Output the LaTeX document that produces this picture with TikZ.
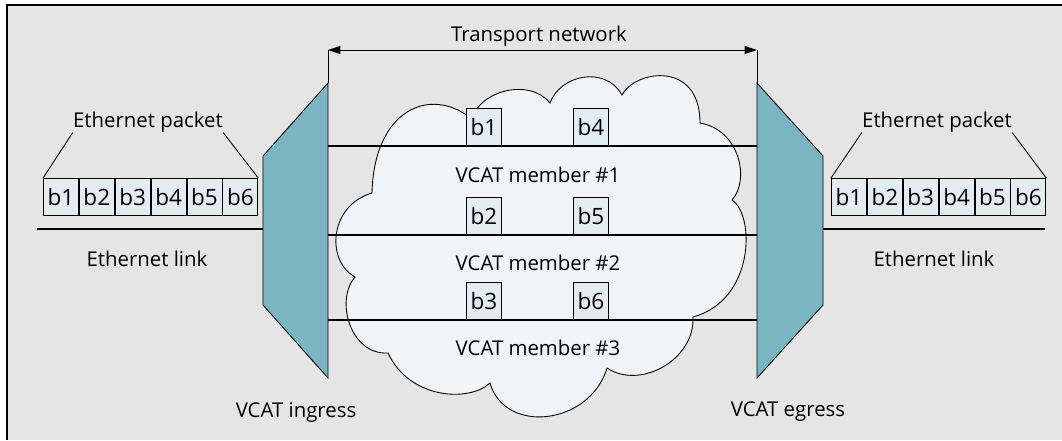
\documentclass[tikz,border=0pt]{standalone}
\usepackage{fontspec}
\setmainfont{Open Sans}
\usetikzlibrary{arrows.meta}
\definecolor{bggray}{HTML}{E5E5E5}
\definecolor{teal}{HTML}{7CB5C2}
\definecolor{boxfill}{HTML}{E3ECEF}
\definecolor{cloudfill}{HTML}{F0F4F7}
\tikzset{
  lbl/.style={font=\fontsize{11.6}{13}\selectfont, inner sep=0pt},
  bytebox/.style={draw, fill=boxfill, line width=0.5pt, minimum width=35*0.02cm, minimum height=37*0.02cm, inner sep=0pt, font=\fontsize{12.8}{14}\selectfont, anchor=north west},
  mux/.style={draw, fill=teal, line width=0.5pt},
  thickline/.style={line width=1.5pt},
  thin/.style={line width=0.5pt},
}
\begin{document}
\begin{tikzpicture}[x=0.02cm,y=-0.02cm]
\useasboundingbox (0,0) rectangle (1062,440);
\fill[white] (0,0) rectangle (1062,440);
\fill[bggray] (7,5) rectangle (1062,440);
\draw[line width=0.8pt] (7,440) -- (7,5) -- (1062,5);

% cloud
\draw[thin, fill=cloudfill]
 (372,193) .. controls (374,110) and (430,85) .. (472,119)
 .. controls (480,90) and (530,78) .. (550,103)
 .. controls (560,75) and (605,65) .. (622,95)
 .. controls (635,70) and (700,60) .. (700,123)
 .. controls (740,130) and (750,180) .. (732,200)
 .. controls (755,215) and (755,300) .. (693,317)
 .. controls (695,360) and (640,390) .. (607,368)
 .. controls (590,425) and (505,435) .. (490,383)
 .. controls (470,402) and (410,400) .. (388,353)
 .. controls (350,355) and (335,300) .. (355,277)
 .. controls (325,260) and (330,205) .. cycle;

% muxes
\coordinate (inTR) at (328,83);
\coordinate (inBR) at (328,378);
\coordinate (egTL) at (757,83);
\coordinate (egBL) at (757,378);
\draw[mux] (263,156) -- (inTR) -- (inBR) -- (263,305) -- cycle;
\draw[mux] (egTL) -- (823,156) -- (823,305) -- (egBL) -- cycle;

% transport network arrow
\coordinate (arL) at (328,50);
\coordinate (arR) at (757,50);
\draw[thin] (inTR) -- (arL);
\draw[thin] (egTL) -- (arR);
\draw[thin, {Triangle[length=7pt,width=4.5pt]}-{Triangle[length=7pt,width=4.5pt]}] (arL) -- (arR);
\node[lbl] (tn) at (539,36) {Transport network};

% member lines
\foreach \i/\y in {1/146,2/235,3/320} {
  \coordinate (mL\i) at (328,\y);
  \coordinate (mR\i) at (757,\y);
}
\draw[thickline] (mL1) -- (mR1);
\draw[thickline] (mL2) -- (mR2);
\draw[thickline] (mL3) -- (mR3);

% small boxes on members
\node[bytebox, anchor=south west] (m1a) at (466,146) {b1};
\node[bytebox, anchor=south west] (m1b) at (573,146) {b4};
\node[bytebox, anchor=south west] (m2a) at (466,235) {b2};
\node[bytebox, anchor=south west] (m2b) at (573,235) {b5};
\node[bytebox, anchor=south west] (m3a) at (466,320) {b3};
\node[bytebox, anchor=south west] (m3b) at (573,320) {b6};

\node[lbl] (vm1) at (538,175) {VCAT member \#1};
\node[lbl] (vm2) at (538,263) {VCAT member \#2};
\node[lbl] (vm3) at (538,348) {VCAT member \#3};

% left packet
\node[bytebox] (l1) at (43,178) {b1};
\node[bytebox, anchor=west] (l2) at (l1.east) {b2};
\node[bytebox, anchor=west] (l3) at (l2.east) {b3};
\node[bytebox, anchor=west] (l4) at (l3.east) {b4};
\node[bytebox, anchor=west] (l5) at (l4.east) {b5};
\node[bytebox, anchor=west] (l6) at (l5.east) {b6};
\node[lbl] (lpk) at (148,122) {Ethernet packet};
\draw[thin] (lpk.south west) -- (l1.north west);
\draw[thin] (lpk.south east) -- (l6.north east);

% right packet
\node[bytebox] (r1) at (831,178) {b1};
\node[bytebox, anchor=west] (r2) at (r1.east) {b2};
\node[bytebox, anchor=west] (r3) at (r2.east) {b3};
\node[bytebox, anchor=west] (r4) at (r3.east) {b4};
\node[bytebox, anchor=west] (r5) at (r4.east) {b5};
\node[bytebox, anchor=west] (r6) at (r5.east) {b6};
\node[lbl] (rpk) at (937,122) {Ethernet packet};
\draw[thin] (rpk.south west) -- (r1.north west);
\draw[thin] (rpk.south east) -- (r6.north east);

% ethernet links
\coordinate (elL) at (37,229);
\coordinate (inL) at (263,229);
\coordinate (egR) at (823,229);
\coordinate (elR) at (1045,229);
\draw[thickline] (elL) -- (inL);
\draw[thickline] (egR) -- (elR);
\node[lbl] (ell) at (147,259) {Ethernet link};
\node[lbl] (elr) at (934,259) {Ethernet link};

\node[lbl] (ing) at (296,412) {VCAT ingress};
\node[lbl] (egr) at (788,412) {VCAT egress};
\end{tikzpicture}
\end{document}
